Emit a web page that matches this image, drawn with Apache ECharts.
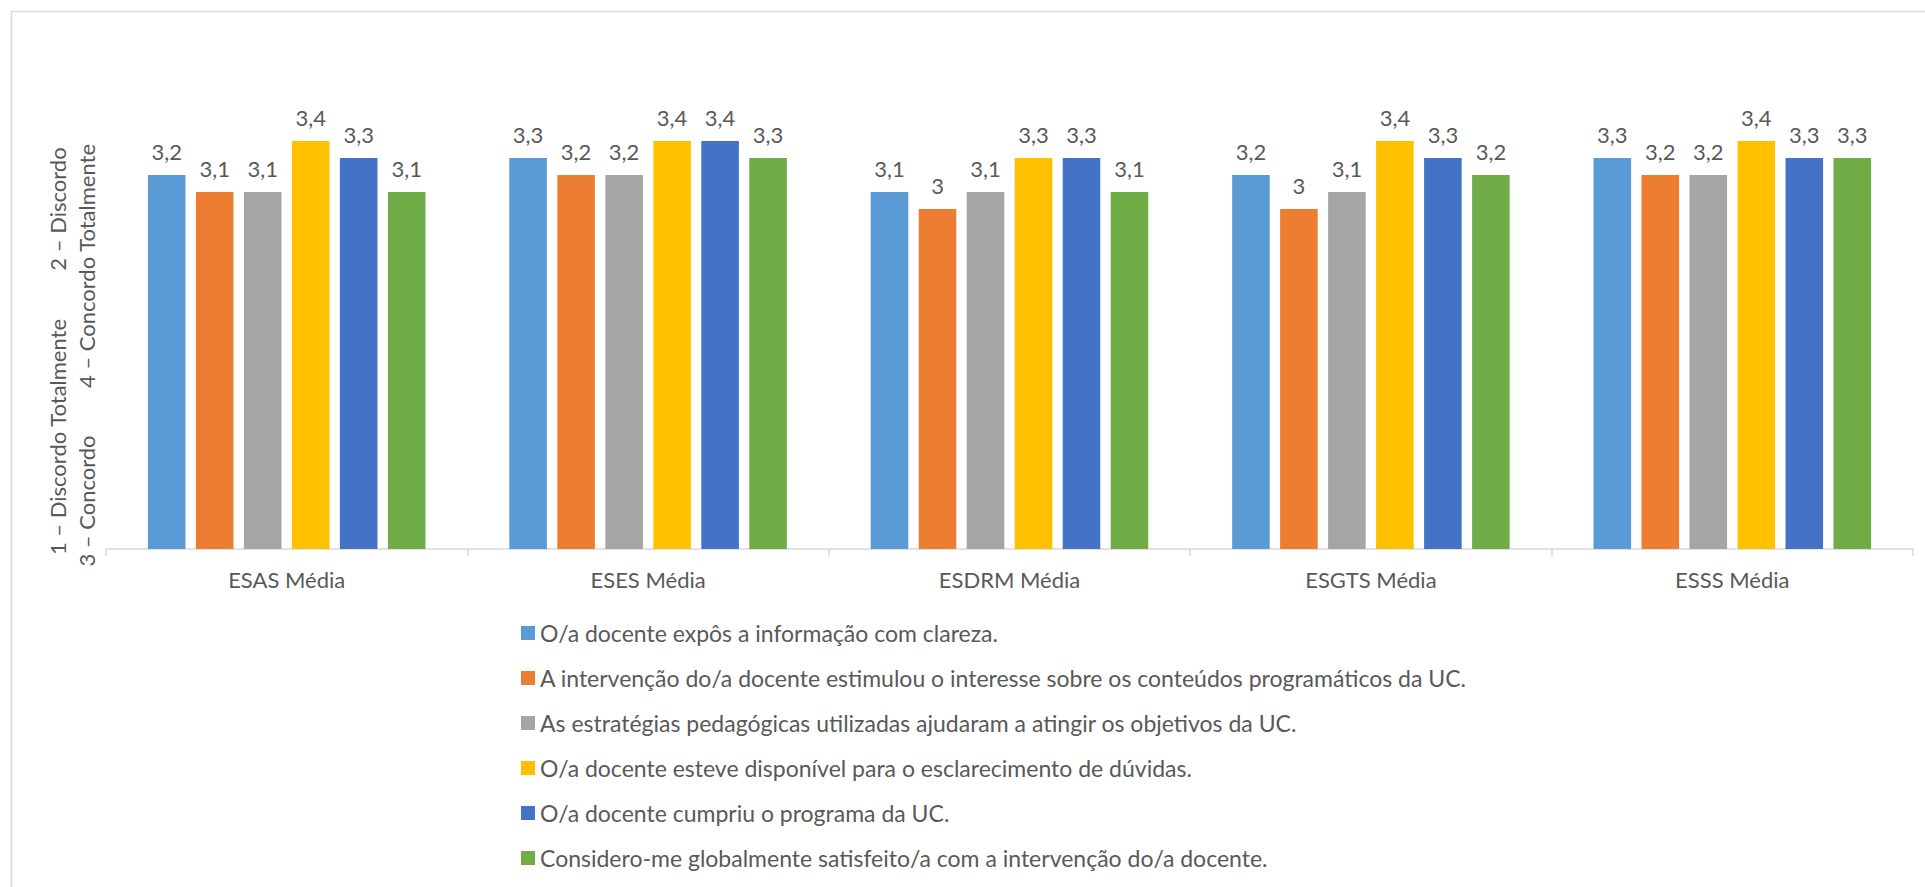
<!DOCTYPE html>
<html>
<head>
<meta charset="utf-8">
<script src="https://cdn.jsdelivr.net/npm/echarts@6/dist/echarts.min.js"></script>
<style>
html,body{margin:0;padding:0;background:#fff;}
#chart{width:1925px;height:887px;}
</style>
</head>
<body>
<div id="chart"></div>
<script>
const categories = ['ESAS Média', 'ESES Média', 'ESDRM Média', 'ESGTS Média', 'ESSS Média'];
const seriesNames = [
  'O/a docente expôs a informação com clareza.',
  'A intervenção do/a docente estimulou o interesse sobre os conteúdos programáticos da UC.',
  'As estratégias pedagógicas utilizadas ajudaram a atingir os objetivos da UC.',
  'O/a docente esteve disponível para o esclarecimento de dúvidas.',
  'O/a docente cumpriu o programa da UC.',
  'Considero-me globalmente satisfeito/a com a intervenção do/a docente.'
];
const clareza = [3.2, 3.3, 3.1, 3.2, 3.3];
const estimulou = [3.1, 3.2, 3, 3, 3.2];
const estrategias = [3.1, 3.2, 3.1, 3.1, 3.2];
const disponivel = [3.4, 3.4, 3.3, 3.4, 3.4];
const cumpriu = [3.3, 3.4, 3.3, 3.3, 3.3];
const satisfeito = [3.1, 3.3, 3.1, 3.2, 3.3];
const seriesValues = [clareza, estimulou, estrategias, disponivel, cumpriu, satisfeito];
const colors = ['#5B9BD5', '#ED7D31', '#A5A5A5', '#FFC000', '#4472C4', '#70AD47'];
const yAxisTitle = ['1 – Discordo Totalmente', '2 – Discordo', '3 – Concordo', '4 – Concordo Totalmente'];

const FONT = 'Lato';
const FS = 22;
const TXT = '#595959';

const chart = echarts.init(document.getElementById('chart'), null, {renderer: 'svg'});
chart.setOption({
  animation: false,
  color: colors,
  textStyle: {fontFamily: FONT},
  grid: {left: 106, right: 12, top: 39, bottom: 338, containLabel: false, outerBoundsMode: 'none'},
  legend: {
    orient: 'vertical',
    left: 521,
    top: 621,
    padding: 0,
    icon: 'rect',
    itemWidth: 14,
    itemHeight: 14,
    itemGap: 21,
    selectedMode: false,
    textStyle: {fontFamily: FONT, fontSize: 23, color: TXT, lineHeight: 24, padding: [0, 0, 0, 0]},
    data: seriesNames
  },
  xAxis: {
    type: 'category',
    data: categories,
    axisLine: {lineStyle: {color: '#D9D9D9', width: 1.5}},
    axisTick: {show: true, length: 7, lineStyle: {color: '#D9D9D9', width: 1.5}},
    axisLabel: {fontFamily: FONT, fontSize: FS, color: TXT, margin: 19}
  },
  yAxis: {
    type: 'value',
    min: 1,
    max: 4,
    interval: 1,
    axisLine: {show: false},
    axisTick: {show: false},
    axisLabel: {show: false},
    splitLine: {show: false}
  },
  graphic: [
    {type: 'rect', left: 9, top: 9, silent: true,
     shape: {x: 0, y: 0, width: 2000, height: 1000},
     style: {fill: 'none', stroke: '#D9D9D9', lineWidth: 1.5}},
    {type: 'text', x: 57, y: 437, rotation: Math.PI / 2,
     style: {text: yAxisTitle[0], font: FS + 'px ' + FONT, fill: TXT, align: 'center', verticalAlign: 'middle'}},
    {type: 'text', x: 57, y: 209, rotation: Math.PI / 2,
     style: {text: yAxisTitle[1], font: FS + 'px ' + FONT, fill: TXT, align: 'center', verticalAlign: 'middle'}},
    {type: 'text', x: 86, y: 501, rotation: Math.PI / 2,
     style: {text: yAxisTitle[2], font: FS + 'px ' + FONT, fill: TXT, align: 'center', verticalAlign: 'middle'}},
    {type: 'text', x: 86, y: 266, rotation: Math.PI / 2,
     style: {text: yAxisTitle[3], font: FS + 'px ' + FONT, fill: TXT, align: 'center', verticalAlign: 'middle'}}
  ],
  series: seriesNames.map((name, i) => ({
    name: name,
    type: 'bar',
    data: seriesValues[i],
    barGap: '27.7%',
    barCategoryGap: '23.2%',
    label: {
      show: true,
      position: 'top',
      distance: 13,
      fontFamily: FONT,
      fontSize: FS,
      color: TXT,
      formatter: p => String(p.value).replace('.', ',')
    }
  }))
});
</script>
</body>
</html>
